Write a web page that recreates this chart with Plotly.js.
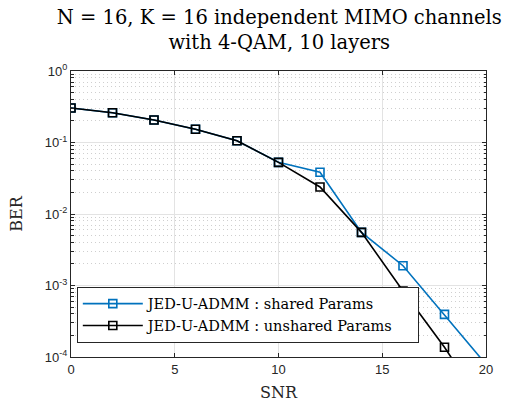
<!DOCTYPE html>
<html>
<head>
<meta charset="utf-8">
<script src="https://cdn.plot.ly/plotly-3.0.1.min.js"></script>
<style>
  html, body { margin: 0; padding: 0; background: #fff; }
  #chart { width: 522px; height: 402px; }
</style>
</head>
<body>
<div id="chart"></div>
<script>
// SNR sweep and bit error rates for the two parameter-sharing variants
const snr = [0, 2, 4, 6, 8, 10, 12, 14, 16, 18, 20];
const berShared = [0.304, 0.261, 0.206, 0.153, 0.106, 0.0528, 0.0383, 0.00554, 0.00189, 0.000395, 0.000079];
const berUnshared = [0.304, 0.261, 0.206, 0.153, 0.106, 0.0528, 0.0239, 0.00554, 0.000838, 0.000137, 0.000018];
const seriesNames = ['JED-U-ADMM : shared Params', 'JED-U-ADMM : unshared Params'];
const xTicks = [0, 5, 10, 15, 20];
const yTicks = [1e-4, 1e-3, 1e-2, 1e-1, 1];
const yTickText = ['10<sup>-4</sup>', '10<sup>-3</sup>', '10<sup>-2</sup>', '10<sup>-1</sup>', '10<sup>0</sup>'];

const serif = 'DejaVu Serif, serif';
const sans = 'Liberation Sans, Arial, sans-serif';

// right-hand breathing room inside the legend box
const legendPad = '\u00a0'.repeat(4);

function series(y, name, color) {
  return {
    x: snr, y: y, name: name + legendPad, type: 'scatter', mode: 'lines+markers',
    line: { color: color, width: 1.6 },
    marker: { symbol: 'square-open', size: 8, color: color, line: { width: 1.6, color: color } },
    cliponaxis: true
  };
}

const data = [
  series(berShared, seriesNames[0], '#0072BD'),
  series(berUnshared, seriesNames[1], '#000000')
];

const layout = {
  width: 522, height: 402,
  margin: { l: 71, r: 36, t: 71, b: 45 },
  paper_bgcolor: '#fff', plot_bgcolor: '#fff',
  title: {
    text: 'N = 16, K = 16 independent MIMO channels<br>with 4-QAM, 10 layers',
    font: { family: serif, size: 19.5, color: '#000' },
    x: 0.535, xanchor: 'center', yref: 'container', y: 0.94, yanchor: 'middle'
  },
  xaxis: {
    range: [0, 20], tickvals: xTicks, ticktext: xTicks.map(String),
    showline: true, mirror: 'ticks', linecolor: '#262626', linewidth: 1,
    ticks: 'inside', ticklen: 4, tickcolor: '#262626',
    showgrid: true, gridcolor: '#e3e3e3', gridwidth: 1, zeroline: false,
    tickfont: { family: sans, size: 13, color: '#262626' },
    title: { text: 'SNR', font: { family: serif, size: 16, color: '#262626' }, standoff: 12 }
  },
  yaxis: {
    type: 'log', range: [-4, 0], tickvals: yTicks, ticktext: yTickText,
    showline: true, mirror: 'ticks', linecolor: '#262626', linewidth: 1,
    ticks: 'inside', ticklen: 4, tickcolor: '#262626',
    showgrid: true, gridcolor: '#e3e3e3', gridwidth: 1, zeroline: false,
    tickfont: { family: sans, size: 13, color: '#262626' },
    minor: { dtick: 'D1', ticks: 'inside', ticklen: 2.5, tickcolor: '#262626', showgrid: true, gridcolor: '#cfcfcf', griddash: '1px,3px', gridwidth: 1 },
    title: { text: 'BER', font: { family: serif, size: 16, color: '#262626' }, standoff: 18 }
  },
  showlegend: true,
  legend: {
    x: 0.014, xanchor: 'left', y: 0.05, yanchor: 'bottom',
    bgcolor: '#fff', bordercolor: '#262626', borderwidth: 1,
    font: { family: serif, size: 14.5, color: '#000' },
    itemwidth: 60, tracegroupgap: 0
  }
};

Plotly.newPlot('chart', data, layout, { staticPlot: true, displayModeBar: false });
</script>
</body>
</html>
